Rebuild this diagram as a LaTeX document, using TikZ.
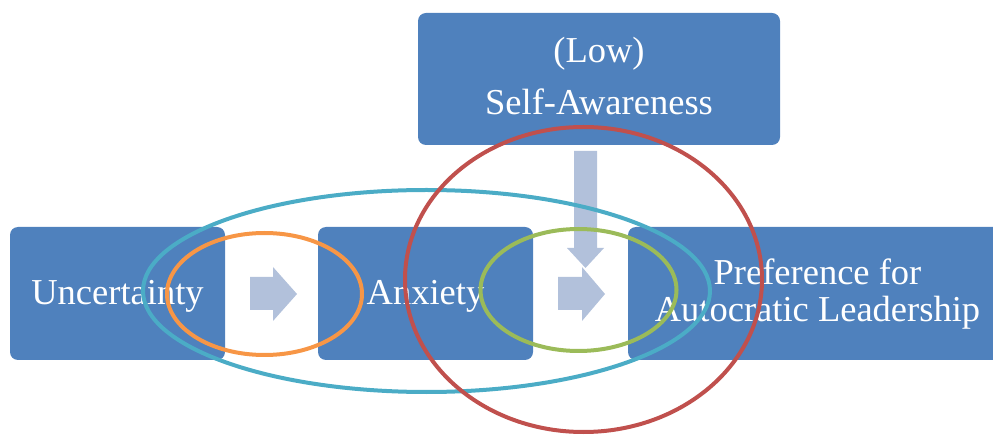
\documentclass[tikz,border=0pt]{standalone}
\usepackage{fontspec}
\setmainfont{Liberation Serif}
\definecolor{boxblue}{HTML}{4F81BD}
\definecolor{arrowgrey}{HTML}{B2C1DB}
\definecolor{ringteal}{HTML}{4BACC6}
\definecolor{ringorange}{HTML}{F79646}
\definecolor{ringgreen}{HTML}{9BBB59}
\definecolor{ringred}{HTML}{C0504D}
\begin{document}
\begin{tikzpicture}[x=1pt,y=-1pt,
  box/.style={fill=boxblue, rounded corners=8pt, text=white, align=center,
    inner sep=0pt, font=\fontsize{36.5}{37}\selectfont},
  blockarrow/.style={fill=arrowgrey},
  ring/.style={line width=4pt}]
\useasboundingbox (0,0) rectangle (993,435);
\clip (0,0) rectangle (993,435);

% process boxes (text height/depth place the last baseline)
\node[box, minimum width=215pt, minimum height=133pt, text height=25pt, text depth=2pt]
  (unc) at (117.5,293.5) {Uncertainty};
\node[box, minimum width=215pt, minimum height=133pt, text height=25pt, text depth=2pt]
  (anx) at (425.5,293.5) {Anxiety};
\node[box, minimum width=379pt, minimum height=133pt, text height=62pt, text depth=5pt]
  (pref) at (817.5,293.5) {Preference for\\Autocratic Leadership};
\node[box, minimum width=362pt, minimum height=132pt, text height=74pt, text depth=2pt]
  (self) at (599,79) {(Low)\\[15pt]Self-Awareness};

% block arrows between the boxes
\fill[blockarrow] (250,277) -- (273,277) -- (273,267) -- (297,294) -- (273,321)
  -- (273,310) -- (250,310) -- cycle;
\fill[blockarrow] (558,277) -- (582,277) -- (582,267) -- (605,294) -- (582,321)
  -- (582,310) -- (558,310) -- cycle;
\fill[blockarrow] (574,151) -- (597,151) -- (597,248) -- (604,248) -- (585.5,268)
  -- (567,248) -- (574,248) -- cycle;

% highlight rings
\draw[ring, ringteal]   (426.5,291) ellipse [x radius=283.5, y radius=101];
\draw[ring, ringorange] (264.5,294) ellipse [x radius=97.5, y radius=61];
\draw[ring, ringgreen]  (578.5,290) ellipse [x radius=98, y radius=61];
\draw[ring, ringred]    (583.5,279.5) ellipse [x radius=178.5, y radius=152.5];
\end{tikzpicture}
\end{document}
